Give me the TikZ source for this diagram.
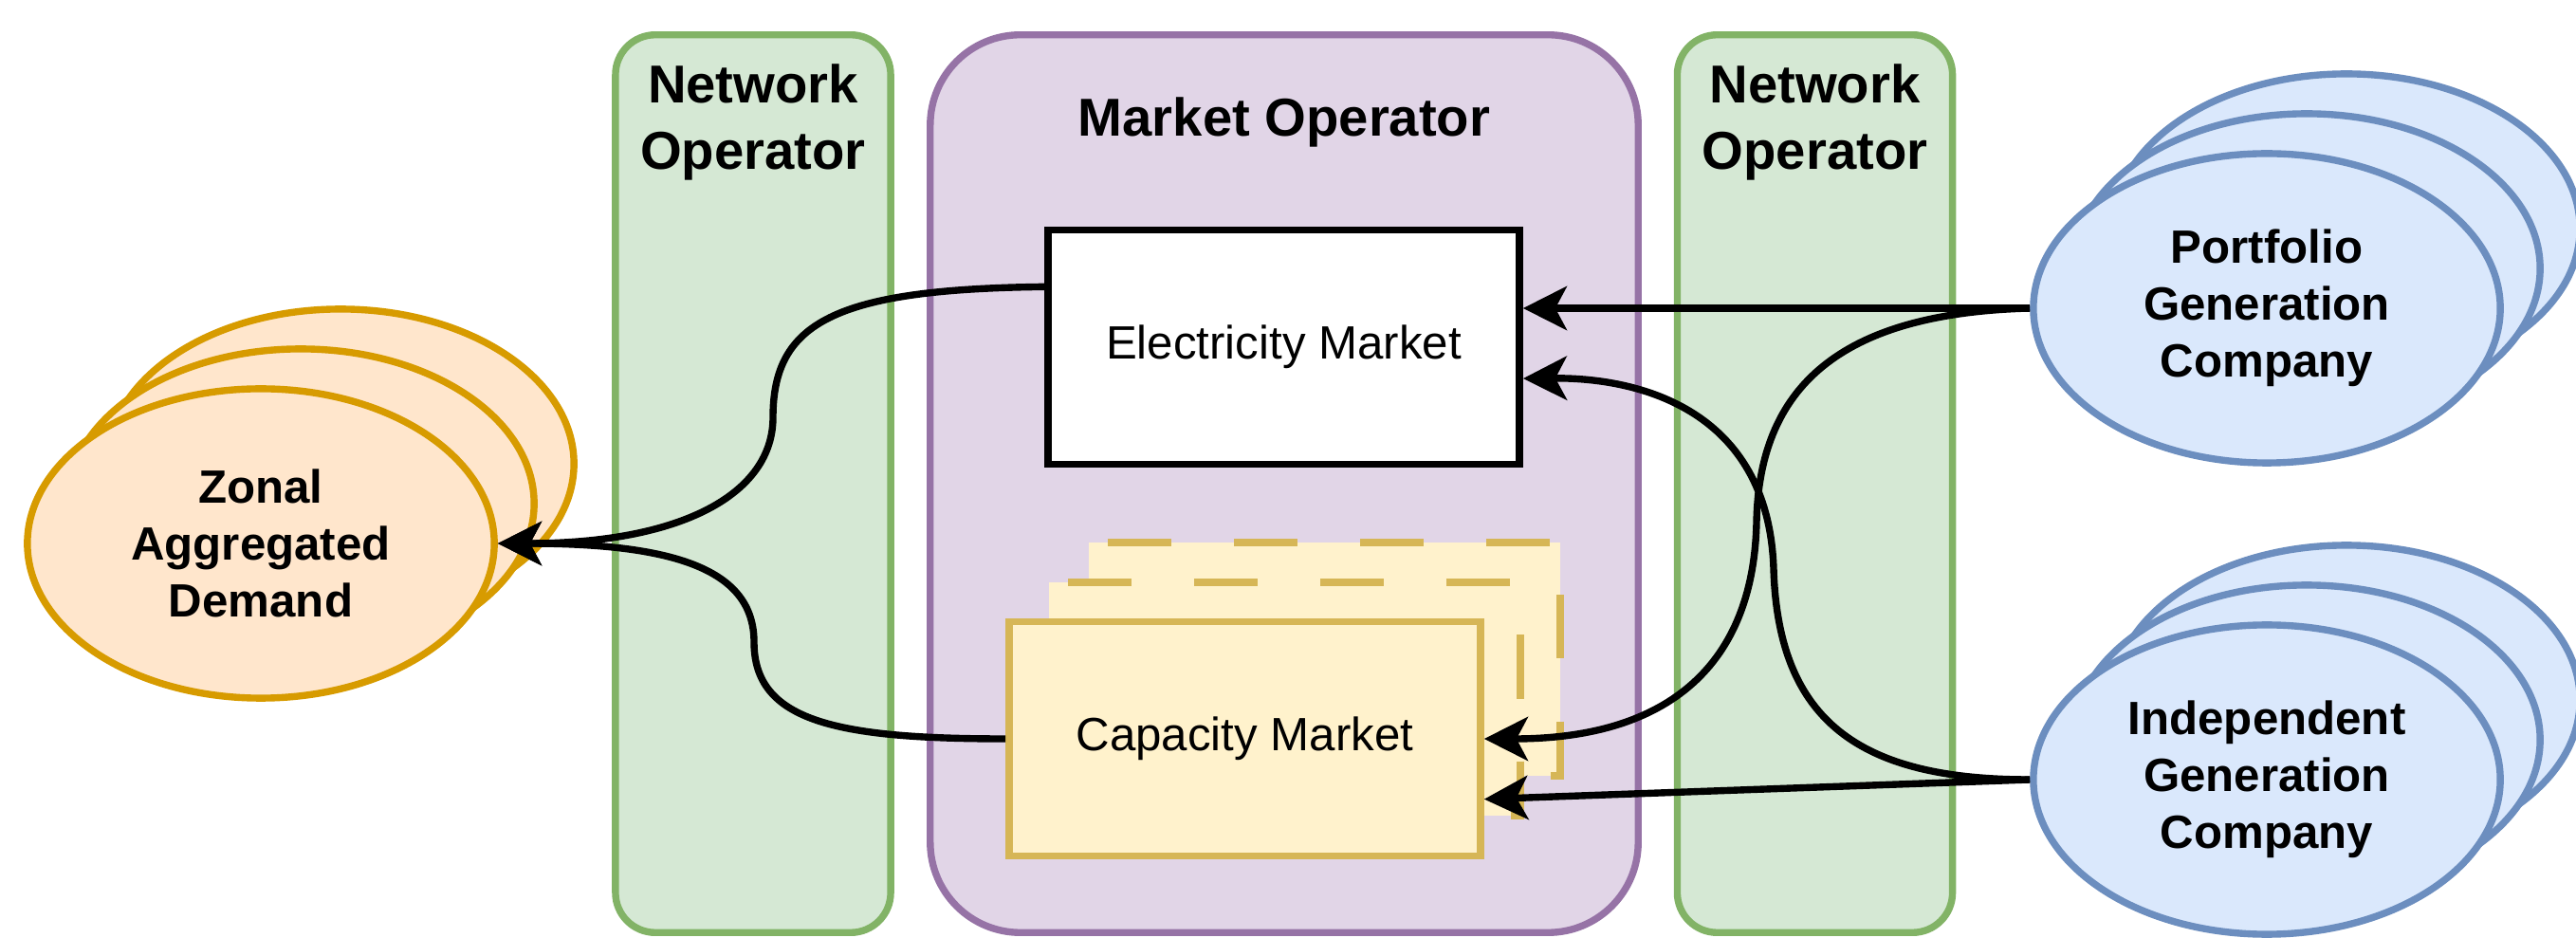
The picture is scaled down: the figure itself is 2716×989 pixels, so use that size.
\documentclass[tikz,border=0pt]{standalone}
\usepackage{fontspec}
\setmainfont{Liberation Sans}
\usepackage{xcolor}
\usepackage{tikz}
\usetikzlibrary{shapes,arrows,positioning,calc,arrows.meta}

\definecolor{netfill}{HTML}{D5E8D4}
\definecolor{netline}{HTML}{82B366}
\definecolor{mktfill}{HTML}{E1D5E7}
\definecolor{mktline}{HTML}{9673A6}
\definecolor{capfill}{HTML}{FFF2CC}
\definecolor{capline}{HTML}{D6B656}
\definecolor{dmdfill}{HTML}{FFE6CC}
\definecolor{dmdline}{HTML}{D79B00}
\definecolor{genfill}{HTML}{DAE8FC}
\definecolor{genline}{HTML}{6C8EBF}

\begin{document}
\begin{tikzpicture}[x=0.01cm, y=-0.01cm,
    lw/.style={line width=2.1pt},
    netop/.style={lw, draw=netline, fill=netfill, rounded corners=0.42cm,
        minimum width=2.9cm, minimum height=9.46cm},
    mktop/.style={lw, draw=mktline, fill=mktfill, rounded corners=0.95cm,
        minimum width=7.46cm, minimum height=9.46cm},
    optitle/.style={inner sep=0pt, align=center,
        font=\fontsize{16pt}{19.9pt}\selectfont\bfseries},
    market/.style={lw, minimum width=4.97cm, minimum height=2.47cm,
        font=\fontsize{14pt}{17pt}\selectfont},
    stackbox/.style={lw, draw=capline, fill=capfill,
        dash pattern=on 0.67cm off 0.66cm},
    agent/.style={ellipse, lw, minimum width=4.92cm, minimum height=3.26cm,
        inner sep=0pt, align=center,
        font=\fontsize{14pt}{17pt}\selectfont\bfseries},
    demand/.style={agent, draw=dmdline, fill=dmdfill},
    genco/.style={agent, draw=genline, fill=genfill},
    flow/.style={lw, -{Stealth[length=0.46cm, width=0.46cm, inset=0.12cm]}}
  ]
  \useasboundingbox (0,0) rectangle (2716,989);

  % operator lanes
  \node[netop] (netleft) at (794,510) {};
  \node[mktop] (mo) at (1354,510) {};
  \node[netop] (netright) at (1913.5,510) {};
  \node[optitle, below=0.34cm of netleft.north] (netlefttxt) {Network\\Operator};
  \node[optitle, below=0.69cm of mo.north] (motxt) {Market Operator};
  \node[optitle, below=0.34cm of netright.north] (netrighttxt) {Network\\Operator};

  % markets
  \node[market, draw=black, fill=white] (elec) at (1353.5,366) {Electricity Market};
  \foreach \k in {2,1}
    \draw[stackbox] (1064+42*\k,902-42*\k) -- ++(0,-246) -- ++(497,0) -- ++(0,246) -- cycle;
  \node[market, draw=capline, fill=capfill] (cap) at (1312.5,779) {Capacity Market};

  % demand and generators, three deep
  \foreach \k in {2,1} {
    \node[demand] at (275+42*\k,573-42*\k) {};
    \node[genco] at (2390+42*\k,325-42*\k) {};
    \node[genco] at (2390+42*\k,822-42*\k) {};
  }
  \node[demand] (zonal) at (275,573) {Zonal\\Aggregated\\Demand};
  \node[genco] (portfolio) at (2390,325) {Portfolio\\Generation\\Company};
  \node[genco] (indep) at (2390,822) {Independent\\Generation\\Company};

  % flows
  \draw[flow] ($(elec.north west)!0.25!(elec.south west)$)
      .. controls (880,305) and (815,340) .. (815,440)
      .. controls (815,520) and (720,573) .. (zonal.east);
  \draw[flow] (cap.west)
      .. controls (880,779) and (795,760) .. (795,677)
      .. controls (795,600) and (710,573) .. (zonal.east);
  \draw[flow] (portfolio.west) -- (portfolio.west -| elec.east);
  \draw[flow] (portfolio.west)
      .. controls (1950,330) and (1855,400) .. (1852,550)
      .. controls (1849,700) and (1760,779) .. (cap.east);
  \draw[flow] (indep.west)
      .. controls (1960,822) and (1875,760) .. (1870,600)
      .. controls (1865,440) and (1740,398) .. ($(elec.north east)!0.63!(elec.south east)$);
  \draw[flow] (indep.west) -- ($(cap.north east)!0.75!(cap.south east)$);
\end{tikzpicture}
\end{document}
